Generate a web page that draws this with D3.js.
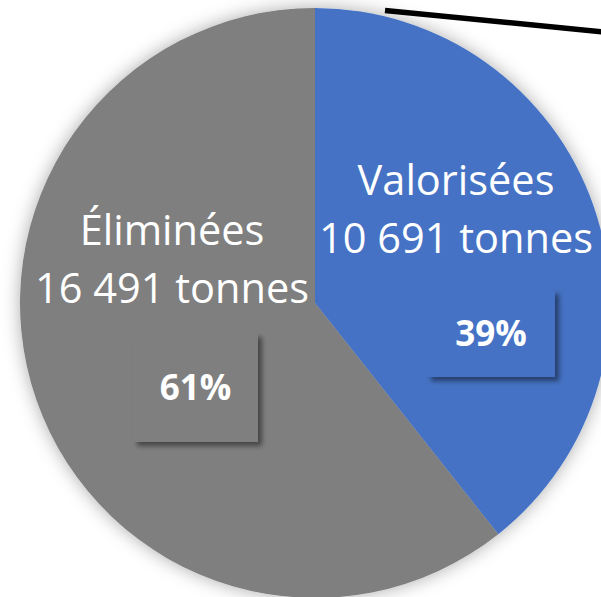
<!DOCTYPE html>
<html>
<head>
<meta charset="utf-8">
<script src="https://cdn.jsdelivr.net/npm/d3@7/dist/d3.min.js"></script>
<style>
  html, body { margin: 0; padding: 0; background: #ffffff; overflow: hidden; }
  svg { display: block; }
</style>
</head>
<body>
<svg id="chart" width="601" height="597"></svg>
<script>
// ---- data ----
const categories = ["Valorisées", "Éliminées"];
const values = [10691, 16491];
const unitLabel = "tonnes";
const colors = ["#4472C4", "#7F7F7F"];

// ---- layout ----
const W = 601, H = 597;
const cx = 315, cy = 303, R = 295;
const fontFamily = "'Open Sans', 'DejaVu Sans', sans-serif";

const svg = d3.select("#chart");
const defs = svg.append("defs");

const pieShadow = defs.append("filter").attr("id", "pieShadow")
  .attr("x", "-20%").attr("y", "-20%").attr("width", "140%").attr("height", "140%");
pieShadow.append("feDropShadow").attr("dx", 0).attr("dy", 0)
  .attr("stdDeviation", 9).attr("flood-color", "#000").attr("flood-opacity", 0.33);

const boxShadow = defs.append("filter").attr("id", "boxShadow")
  .attr("x", "-20%").attr("y", "-20%").attr("width", "150%").attr("height", "150%");
boxShadow.append("feDropShadow").attr("dx", 4).attr("dy", 4)
  .attr("stdDeviation", 2.5).attr("flood-color", "#000").attr("flood-opacity", 0.45);

const total = d3.sum(values);
const data = categories.map((c, i) => ({ name: c, value: values[i], color: colors[i] }));

const pie = d3.pie().value(d => d.value).sort(null).startAngle(0).endAngle(2 * Math.PI);
const arcs = pie(data);
const arc = d3.arc().innerRadius(0).outerRadius(R);

const g = svg.append("g").attr("transform", `translate(${cx},${cy})`);

g.append("g").attr("filter", "url(#pieShadow)")
  .selectAll("path").data(arcs).join("path")
  .attr("d", arc)
  .attr("fill", d => d.data.color);

// leader line fragment at top right
svg.append("line")
  .attr("x1", 385).attr("y1", 10.5)
  .attr("x2", 620).attr("y2", 33.5)
  .attr("stroke", "#000").attr("stroke-width", 5.5);

// label placement
const labelCfg = [
  { textDx: 456 - cx, textDy: 195 - cy, box: { x: 427, y: 290, w: 128, h: 87 } },
  { textDx: 172 - cx, textDy: 245 - cy, box: { x: 133, y: 333, w: 125, h: 109 } }
];

const fmt = v => d3.format(",")(v).replace(/,/g, " ");
const pctFmt = d3.format(".0%");

arcs.forEach((a, i) => {
  const cfg = labelCfg[i];
  const t = g.append("text")
    .attr("font-family", fontFamily)
    .attr("font-size", 41.5)
    .attr("fill", "#ffffff")
    .attr("text-anchor", "middle");
  t.append("tspan").attr("x", cfg.textDx).attr("y", cfg.textDy).text(a.data.name);
  t.append("tspan").attr("x", cfg.textDx).attr("y", cfg.textDy + 58).text(fmt(a.data.value) + " " + unitLabel);

  const b = cfg.box;
  svg.append("rect")
    .attr("x", b.x).attr("y", b.y).attr("width", b.w).attr("height", b.h)
    .attr("fill", a.data.color)
    .attr("filter", "url(#boxShadow)");
  svg.append("text")
    .attr("x", b.x + b.w / 2)
    .attr("y", b.y + b.h / 2 + 12.5)
    .attr("text-anchor", "middle")
    .attr("font-family", fontFamily)
    .attr("font-weight", "bold")
    .attr("font-size", 35)
    .attr("fill", "#ffffff")
    .text(pctFmt(a.data.value / total));
});
</script>
</body>
</html>
